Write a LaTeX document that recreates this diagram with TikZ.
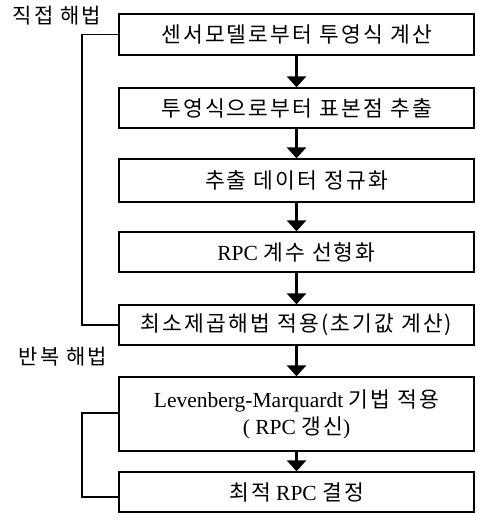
\documentclass[tikz,border=0pt]{standalone}
\usepackage{fontspec}
\setmainfont{Liberation Serif}
\newfontfamily\kr{Noto Sans CJK KR}[LetterSpace=10,Scale=1.0]
\usetikzlibrary{arrows.meta}
\begin{document}
\begin{tikzpicture}[x=1pt,y=-1pt,
  box/.style={draw, line width=1.3pt, minimum width=355pt, inner sep=0pt,
    font=\fontsize{21.5}{27}\selectfont, align=center},
  flow/.style={line width=2.6pt, -{Triangle[width=19pt,length=11pt]}},
  bracket/.style={line width=1.1pt},
  lab/.style={font=\fontsize{21}{24}\selectfont, inner sep=0pt}]
\useasboundingbox (0,0) rectangle (478,525);
\node[box, minimum height=41pt] (b1) at (296.5,34.5) {\kr 센서모델로부터 투영식 계산};
\node[box, minimum height=40pt] (b2) at (296.5,108) {\kr 투영식으로부터 표본점 추출};
\node[box, minimum height=43pt] (b3) at (296.5,180.5) {\kr 추출 데이터 정규화};
\node[box, minimum height=40pt] (b4) at (296.5,252) {RPC {\kr 계수 선형화}};
\node[box, minimum height=40pt] (b5) at (296.5,325) {\kr 최소제곱해법 적용(초기값 계산)};
\node[box, minimum height=74pt] (b6) at (296.5,414) {Levenberg-Marquardt {\kr 기법 적용}\\( RPC {\kr 갱신})};
\node[box, minimum height=40pt] (b7) at (296.5,492) {{\kr 최적} RPC {\kr 결정}};
\node[lab] (l1) at (57,16) {\kr 직접 해법};
\node[lab] (l2) at (63,357) {\kr 반복 해법};
\draw[flow] (b1) -- (b2);
\draw[flow] (b2) -- (b3);
\draw[flow] (b3) -- (b4);
\draw[flow] (b4) -- (b5);
\draw[flow] (b5) -- (b6);
\draw[flow] (b6) -- (b7);
\coordinate (x1) at (82,0);
\coordinate (t2) at (119,413);
\coordinate (e2) at (119,497);
\draw[bracket] (b1.west) -- (b1.west -| x1) -- (b5.west -| x1) -- (b5.west);
\draw[bracket] (t2) -- (t2 -| x1) -- (e2 -| x1) -- (e2);
\end{tikzpicture}
\end{document}
